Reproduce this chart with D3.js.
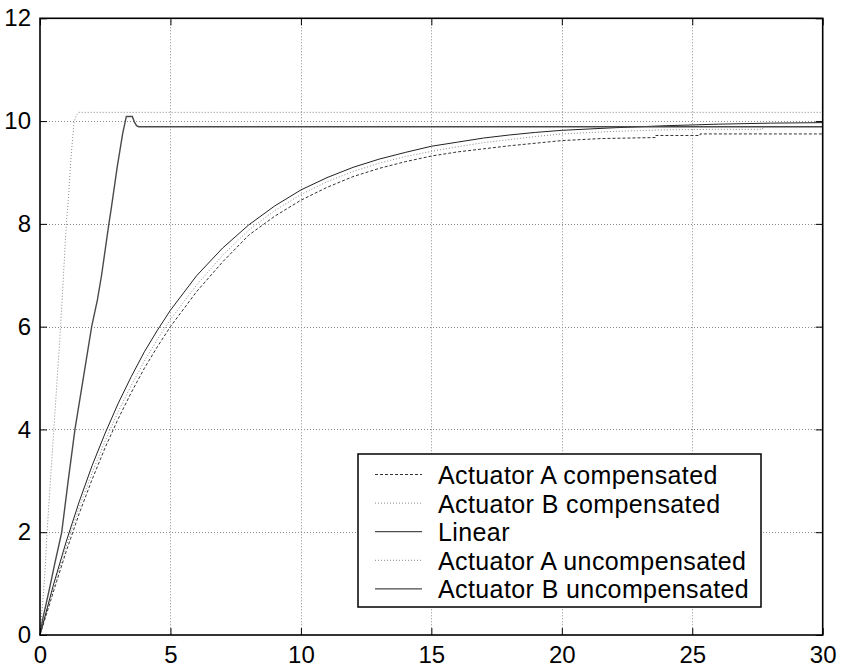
<!DOCTYPE html>
<html>
<head>
<meta charset="utf-8">
<script src="https://cdn.jsdelivr.net/npm/d3@7"></script>
<style>
  html, body { margin: 0; padding: 0; background: #fff; }
  svg { display: block; }
  text { font-family: "Liberation Sans", Arial, Helvetica, sans-serif; }
</style>
</head>
<body>
<svg id="chart" width="842" height="668"></svg>
<script>
// Step responses: [time (s), output]
const actuatorAComp = [
  [0, 0], [0.5, 0.82], [1, 1.62], [1.5, 2.36], [2, 3.03], [2.5, 3.65], [3, 4.21],
  [3.5, 4.72], [4, 5.19], [4.5, 5.61], [5, 6.00], [6, 6.68], [7, 7.26], [8, 7.78],
  [9, 8.15], [10, 8.46], [11, 8.71], [12, 8.92], [13, 9.08], [14, 9.21], [15, 9.32],
  [16, 9.40], [17, 9.46], [18, 9.52], [19, 9.57], [20, 9.62], [21.5, 9.66],
  [23.6, 9.68], [23.6, 9.72], [25.3, 9.72], [25.3, 9.75], [30, 9.75]
];
const actuatorBComp = [
  [0, 0], [0.5, 0.88], [1, 1.72], [1.5, 2.48], [2, 3.16], [2.5, 3.78], [3, 4.35],
  [3.5, 4.86], [4, 5.33], [4.5, 5.75], [5, 6.14], [6, 6.81], [7, 7.39], [8, 7.88],
  [9, 8.26], [10, 8.57], [11, 8.82], [12, 9.02], [13, 9.18], [14, 9.31], [15, 9.41],
  [16, 9.50], [17, 9.58], [18, 9.64], [19, 9.70], [20, 9.75], [22, 9.80],
  [24, 9.83], [26, 9.84], [27.7, 9.84], [27.7, 9.89], [30, 9.89]
];
const linearResp = [
  [0, 0], [0.5, 0.95], [1, 1.81], [1.5, 2.59], [2, 3.30], [2.5, 3.93], [3, 4.51],
  [3.5, 5.03], [4, 5.51], [4.5, 5.93], [5, 6.32], [6, 6.99], [7, 7.53], [8, 7.98],
  [9, 8.35], [10, 8.66], [11, 8.90], [12, 9.10], [13, 9.26], [14, 9.39], [15, 9.51],
  [16, 9.59], [17, 9.67], [18, 9.73], [19, 9.78], [20, 9.82], [22, 9.87],
  [24, 9.91], [26, 9.94], [28, 9.96], [30, 9.97]
];
const actuatorAUncomp = [
  [0, 0], [0.1, 0.6], [0.2, 1.3], [0.27, 2.0], [0.40, 3.0], [0.53, 4.0], [0.66, 5.0],
  [0.79, 6.0], [0.90, 7.0], [1.01, 8.0], [1.09, 8.5], [1.19, 9.3], [1.30, 9.96],
  [1.38, 10.10], [1.48, 10.17], [30, 10.17]
];
const actuatorBUncomp = [
  [0, 0], [0.1, 0.3], [0.38, 0.94], [0.57, 1.40], [0.83, 1.99], [1.08, 3.0],
  [1.34, 4.0], [1.66, 5.0], [1.98, 6.0], [2.2, 6.52], [2.36, 7.0], [2.64, 8.0],
  [2.74, 8.33], [2.96, 9.11], [3.17, 9.76], [3.31, 10.09], [3.54, 10.09],
  [3.62, 9.98], [3.70, 9.91], [3.78, 9.89], [30, 9.89]
];

const xTicks = [0, 5, 10, 15, 20, 25, 30];
const yTicks = [0, 2, 4, 6, 8, 10, 12];

const seriesNames = [
  "Actuator A compensated",
  "Actuator B compensated",
  "Linear",
  "Actuator A uncompensated",
  "Actuator B uncompensated"
];

// line styles for each series, in legend order
const styles = [
  { stroke: "#333", width: 1, dash: "3,2" },
  { stroke: "#888", width: 1, dash: "1,2" },
  { stroke: "#222", width: 1, dash: null },
  { stroke: "#888", width: 1, dash: "1,2" },
  { stroke: "#4a4a4a", width: 1.4, dash: null }
];
const seriesData = [actuatorAComp, actuatorBComp, linearResp, actuatorAUncomp, actuatorBUncomp];

const svg = d3.select("#chart");
const plotL = 40, plotR = 822.7, plotT = 18.3, plotB = 635;

const x = d3.scaleLinear().domain([0, 30]).range([plotL, plotR]);
const y = d3.scaleLinear().domain([0, 12]).range([plotB, plotT]);

// dotted grid
const grid = svg.append("g").attr("stroke", "#8a8a8a").attr("stroke-width", 1)
  .attr("stroke-dasharray", "1,2");
grid.selectAll("line.gx").data(xTicks.slice(1, -1)).join("line")
  .attr("x1", d => Math.round(x(d)) + 0.5).attr("x2", d => Math.round(x(d)) + 0.5)
  .attr("y1", plotT).attr("y2", plotB);
grid.selectAll("line.gy").data(yTicks.slice(1, -1)).join("line")
  .attr("y1", d => Math.round(y(d)) + 0.5).attr("y2", d => Math.round(y(d)) + 0.5)
  .attr("x1", plotL).attr("x2", plotR);

// curves
const line = d3.line().x(d => x(d[0])).y(d => y(d[1]));
const plot = svg.append("g");
seriesData.forEach((data, i) => {
  const s = styles[i];
  plot.append("path")
    .datum(data)
    .attr("fill", "none")
    .attr("stroke", s.stroke)
    .attr("stroke-width", s.width)
    .attr("stroke-dasharray", s.dash)
    .attr("stroke-linejoin", "miter")
    .attr("d", line);
});

// axes with inward ticks on all four sides
const tickFont = 24;
const axB = svg.append("g").attr("transform", `translate(0,${plotB})`)
  .call(d3.axisBottom(x).tickValues(xTicks).tickSizeInner(-7).tickSizeOuter(0).tickPadding(11));
const axL = svg.append("g").attr("transform", `translate(${plotL},0)`)
  .call(d3.axisLeft(y).tickValues(yTicks).tickSizeInner(-7).tickSizeOuter(0).tickPadding(9));
const axT = svg.append("g").attr("transform", `translate(0,${plotT})`)
  .call(d3.axisTop(x).tickValues(xTicks).tickSizeInner(-7).tickSizeOuter(0).tickFormat(""));
const axR = svg.append("g").attr("transform", `translate(${plotR},0)`)
  .call(d3.axisRight(y).tickValues(yTicks).tickSizeInner(-7).tickSizeOuter(0).tickFormat(""));
[axB, axL, axT, axR].forEach(g => {
  g.select(".domain").remove();
  g.selectAll(".tick line").attr("stroke", "#000").attr("stroke-width", 1);
  g.selectAll("text").attr("font-size", tickFont).attr("fill", "#000")
    .style("font-family", '"Liberation Sans", Arial, Helvetica, sans-serif');
});

// frame
svg.append("rect")
  .attr("x", plotL).attr("y", plotT)
  .attr("width", plotR - plotL).attr("height", plotB - plotT)
  .attr("fill", "none").attr("stroke", "#000").attr("stroke-width", 1.6);

// legend
const lg = svg.append("g");
lg.append("rect")
  .attr("x", 358).attr("y", 454).attr("width", 403).attr("height", 153)
  .attr("fill", "#fff").attr("stroke", "#000").attr("stroke-width", 1.5);
seriesNames.forEach((name, i) => {
  const base = 484 + i * 28.6;
  const s = styles[i];
  lg.append("line")
    .attr("x1", 375).attr("x2", 422)
    .attr("y1", base - 9.5).attr("y2", base - 9.5)
    .attr("stroke", s.stroke).attr("stroke-width", s.width)
    .attr("stroke-dasharray", s.dash);
  lg.append("text")
    .attr("x", 438).attr("y", base)
    .attr("font-size", 25).attr("letter-spacing", 0.4).attr("fill", "#000")
    .text(name);
});
</script>
</body>
</html>
